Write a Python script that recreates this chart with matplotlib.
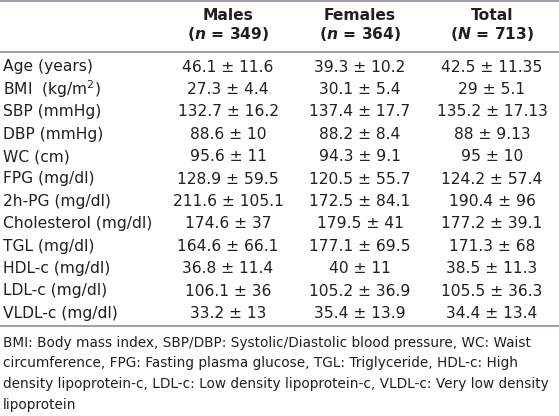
import matplotlib
matplotlib.use("Agg")
import matplotlib.pyplot as plt
from matplotlib.lines import Line2D

W, H = 559, 416

variables = ["Age (years)", "BMI  (kg/m$^2$)", "SBP (mmHg)", "DBP (mmHg)", "WC (cm)",
             "FPG (mg/dl)", "2h-PG (mg/dl)", "Cholesterol (mg/dl)", "TGL (mg/dl)",
             "HDL-c (mg/dl)", "LDL-c (mg/dl)", "VLDL-c (mg/dl)"]
males = ["46.1 ± 11.6", "27.3 ± 4.4", "132.7 ± 16.2", "88.6 ± 10", "95.6 ± 11",
         "128.9 ± 59.5", "211.6 ± 105.1", "174.6 ± 37", "164.6 ± 66.1",
         "36.8 ± 11.4", "106.1 ± 36", "33.2 ± 13"]
females = ["39.3 ± 10.2", "30.1 ± 5.4", "137.4 ± 17.7", "88.2 ± 8.4", "94.3 ± 9.1",
           "120.5 ± 55.7", "172.5 ± 84.1", "179.5 ± 41", "177.1 ± 69.5",
           "40 ± 11", "105.2 ± 36.9", "35.4 ± 13.9"]
total = ["42.5 ± 11.35", "29 ± 5.1", "135.2 ± 17.13", "88 ± 9.13", "95 ± 10",
         "124.2 ± 57.4", "190.4 ± 96", "177.2 ± 39.1", "171.3 ± 68",
         "38.5 ± 11.3", "105.5 ± 36.3", "34.4 ± 13.4"]
groups = ["Males", "Females", "Total"]
n_symbols = ["n", "n", "N"]
n_values = [349, 364, 713]
footnote = ["BMI: Body mass index, SBP/DBP: Systolic/Diastolic blood pressure, WC: Waist",
            "circumference, FPG: Fasting plasma glucose, TGL: Triglyceride, HDL-c: High",
            "density lipoprotein-c, LDL-c: Low density lipoprotein-c, VLDL-c: Very low density",
            "lipoprotein"]

plt.rcParams['font.family'] = ['DejaVu Sans']
plt.rcParams['mathtext.fontset'] = 'dejavusans'
fig = plt.figure(figsize=(W / 100, H / 100), dpi=100)
fig.patch.set_facecolor("white")


def fx(x):
    return x / W


def fy(y):
    return 1 - y / H


text_color = "#231f20"
line_color = "#8c7d98"
for y in [0.8, 52, 326]:
    fig.add_artist(Line2D([0, 1], [fy(y), fy(y)], color=line_color, lw=1.1))

col_x = [228, 360, 492]
fs = 11.2
for cx, name, sym, nv in zip(col_x, groups, n_symbols, n_values):
    fig.text(fx(cx), fy(15), name, ha="center", va="center", fontsize=fs,
             fontweight="bold", color=text_color)
    fig.text(fx(cx), fy(34), rf"$\mathbf{{(}}\boldsymbol{{{sym}}}\mathbf{{\,=\,{nv})}}$",
             ha="center", va="center", fontsize=fs, color=text_color)

row_y0, row_dy = 67, 22.4
for i, var in enumerate(variables):
    y = fy(row_y0 + i * row_dy)
    fig.text(fx(3), y, var, ha="left", va="center", fontsize=fs, color=text_color)
    for cx, col in zip(col_x, [males, females, total]):
        fig.text(fx(cx), y, col[i], ha="center", va="center", fontsize=fs, color=text_color)

for j, line in enumerate(footnote):
    fig.text(fx(3), fy(343 + j * 20.5), line, ha="left", va="center", fontsize=9.8,
             color=text_color)

fig.savefig("out.png", dpi=100, facecolor="white")
